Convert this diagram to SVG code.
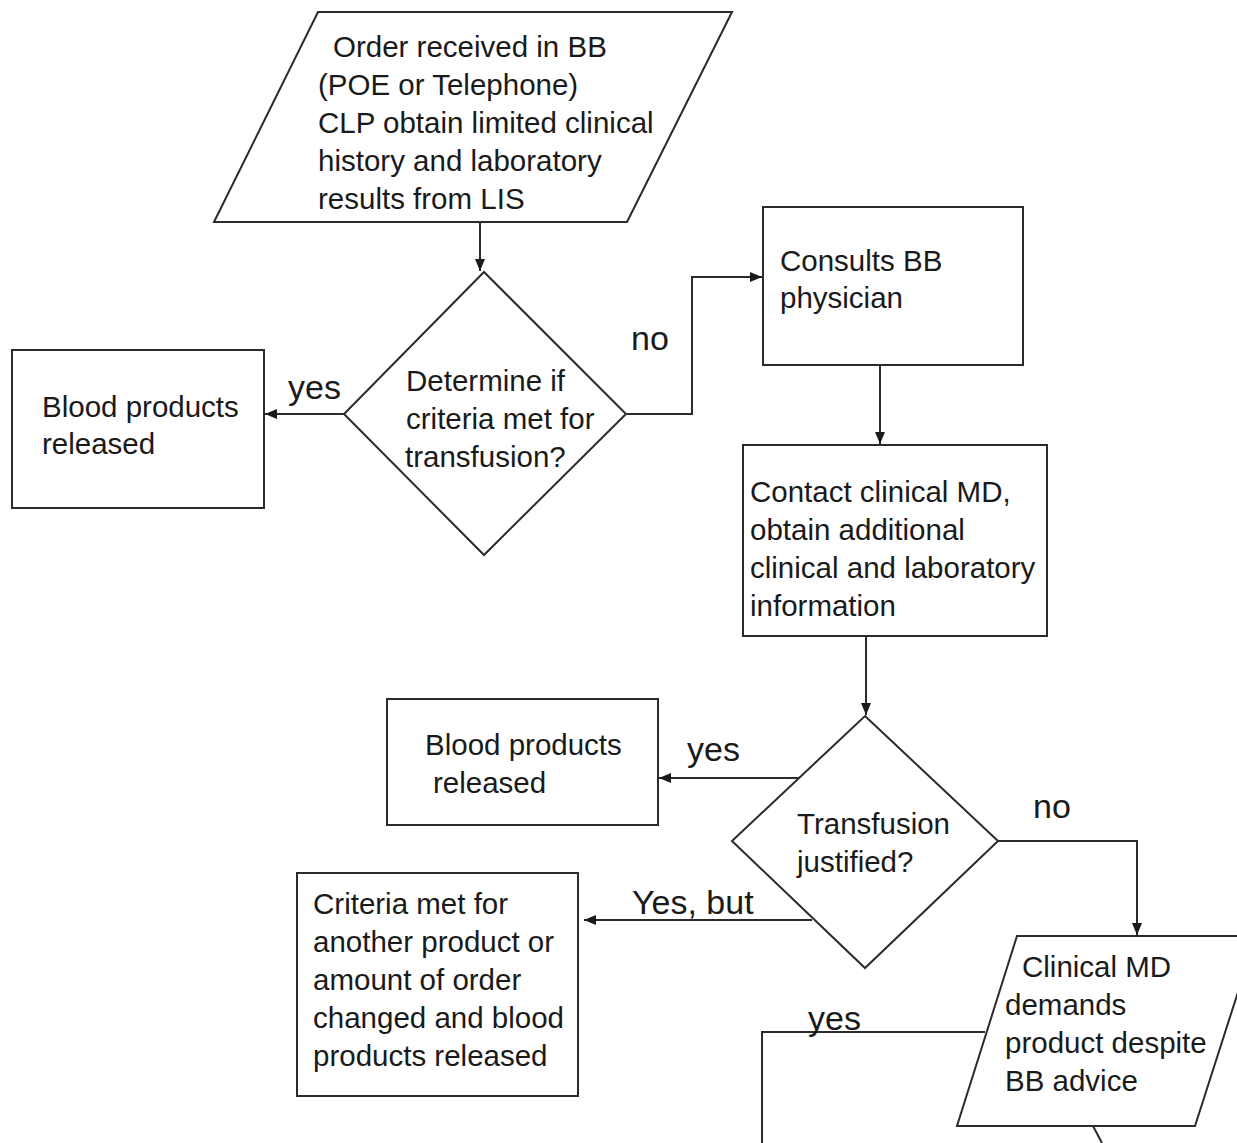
<svg xmlns="http://www.w3.org/2000/svg" width="1237" height="1143" viewBox="0 0 1237 1143">
<style>
.s{fill:#fff;stroke:#2b2b2b;stroke-width:2}
.c{fill:none;stroke:#2b2b2b;stroke-width:2}
.t{font-family:"Liberation Sans",Arial,sans-serif;font-size:29.5px;fill:#1a1a1a}
.l{font-family:"Liberation Sans",Arial,sans-serif;font-size:34px;fill:#1a1a1a}
</style>
<defs>
<marker id="a" viewBox="0 0 12 10" refX="12" refY="5" markerWidth="12" markerHeight="10" markerUnits="userSpaceOnUse" orient="auto">
<path d="M0,0 L12,5 L0,10 Z" fill="#1a1a1a"/>
</marker>
</defs>
<rect width="1237" height="1143" fill="#fff"/>
<g id="connectors">
<path class="c" d="M480,222 V271" marker-end="url(#a)"/>
<path class="c" d="M344,414 H265" marker-end="url(#a)"/>
<path class="c" d="M626,414 H692 V277 H762" marker-end="url(#a)"/>
<path class="c" d="M880,365 V444" marker-end="url(#a)"/>
<path class="c" d="M866,636 V715" marker-end="url(#a)"/>
<path class="c" d="M800,778 H659" marker-end="url(#a)"/>
<path class="c" d="M812,920 H584" marker-end="url(#a)"/>
<path class="c" d="M998,841 H1137 V935" marker-end="url(#a)"/>
<path class="c" d="M985,1032 H762 V1143"/>
<path class="c" d="M1093,1126 L1102,1143"/>
<text class="l" x="288" y="399">yes</text>
<text class="l" x="631" y="350">no</text>
<text class="l" x="687" y="761">yes</text>
<text class="l" x="632" y="914">Yes, but</text>
<text class="l" x="1033" y="818">no</text>
<text class="l" x="808" y="1030">yes</text>
</g>
<g id="order">
<polygon class="s" points="318,12 732,12 627,222 214,222"/>
<text class="t" x="333" y="57">Order received in BB</text>
<text class="t" x="318" y="95">(POE or Telephone)</text>
<text class="t" x="318" y="133">CLP obtain limited clinical</text>
<text class="t" x="318" y="171">history and laboratory</text>
<text class="t" x="318" y="209">results from LIS</text>
</g>
<g id="criteria">
<polygon class="s" points="484,272 626,414 484,555 344,414"/>
<text class="t" x="406" y="391">Determine if</text>
<text class="t" x="406" y="429">criteria met for</text>
<text class="t" x="405" y="467">transfusion?</text>
</g>
<g id="released1">
<rect class="s" x="12" y="350" width="252" height="158"/>
<text class="t" x="42" y="417">Blood products</text>
<text class="t" x="42" y="454">released</text>
</g>
<g id="consults">
<rect class="s" x="763" y="207" width="260" height="158"/>
<text class="t" x="780" y="271">Consults BB</text>
<text class="t" x="780" y="308">physician</text>
</g>
<g id="contact">
<rect class="s" x="743" y="445" width="304" height="191"/>
<text class="t" x="750" y="502">Contact clinical MD,</text>
<text class="t" x="750" y="540">obtain additional</text>
<text class="t" x="750" y="578">clinical and laboratory</text>
<text class="t" x="750" y="616">information</text>
</g>
<g id="justified">
<polygon class="s" points="865,716 998,841 865,968 732,841"/>
<text class="t" x="797" y="834">Transfusion</text>
<text class="t" x="797" y="872">justified?</text>
</g>
<g id="released2">
<rect class="s" x="387" y="699" width="271" height="126"/>
<text class="t" x="425" y="755">Blood products</text>
<text class="t" x="433" y="793">released</text>
</g>
<g id="changed">
<rect class="s" x="297" y="873" width="281" height="223"/>
<text class="t" x="313" y="914">Criteria met for</text>
<text class="t" x="313" y="952">another product or</text>
<text class="t" x="313" y="990">amount of order</text>
<text class="t" x="313" y="1028">changed and blood</text>
<text class="t" x="313" y="1066">products released</text>
</g>
<g id="demands">
<polygon class="s" points="1017,936 1256,936 1195,1126 957,1126"/>
<text class="t" x="1022" y="977">Clinical MD</text>
<text class="t" x="1005" y="1015">demands</text>
<text class="t" x="1005" y="1053">product despite</text>
<text class="t" x="1005" y="1091">BB advice</text>
</g>
</svg>
